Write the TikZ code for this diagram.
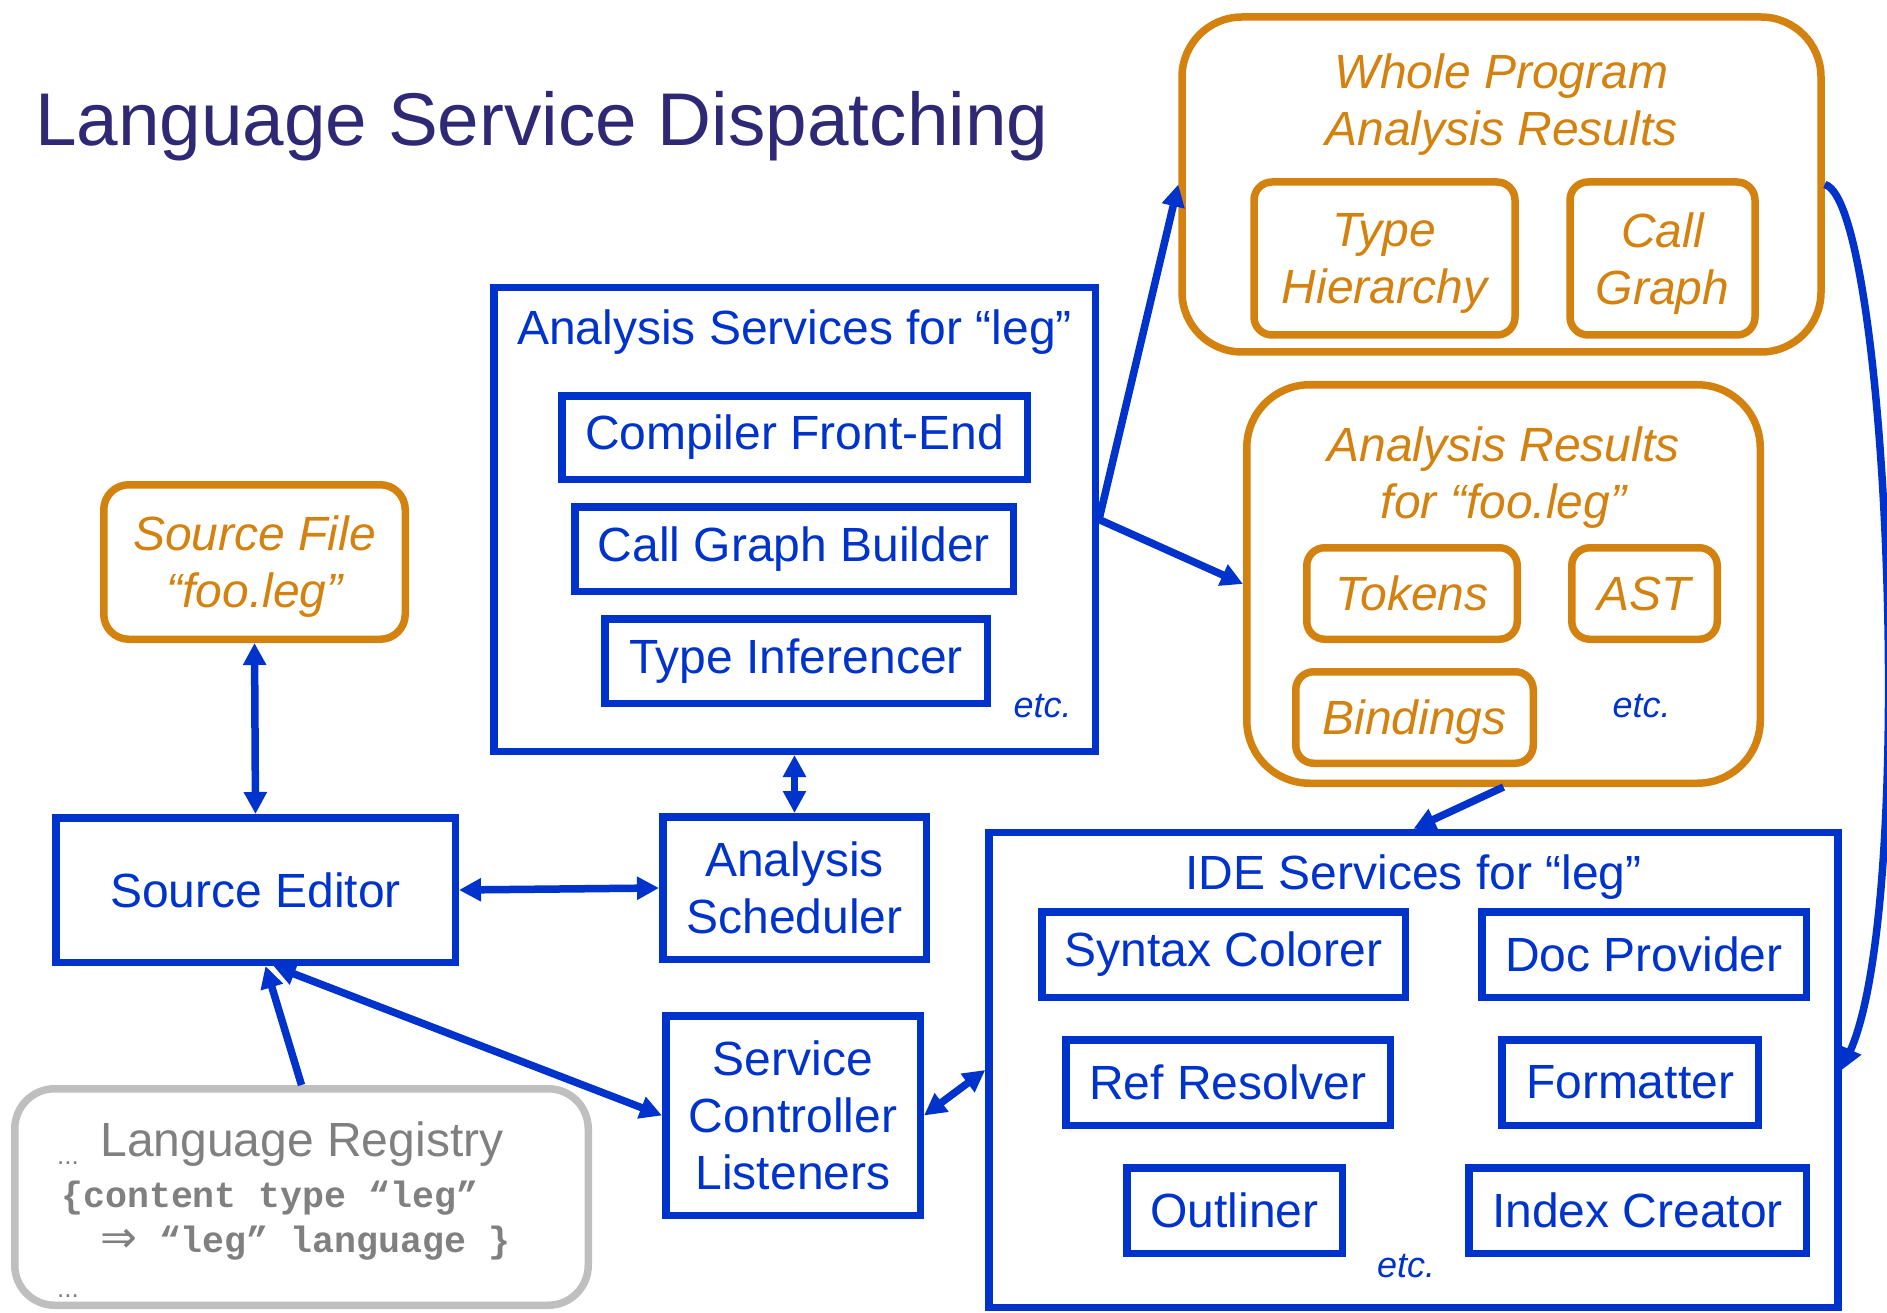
\documentclass[tikz,border=0pt]{standalone}
\usepackage{fontspec}
\setmainfont{Liberation Sans}
\newfontfamily\codefont{Liberation Mono}
\newfontfamily\arrowfont{DejaVu Sans}
\usetikzlibrary{arrows.meta}
\definecolor{svcblue}{HTML}{0033CC}
\definecolor{resorange}{HTML}{D4820F}
\definecolor{titleink}{HTML}{2E2875}
\definecolor{reggray}{HTML}{BFBFBF}
\definecolor{regtext}{HTML}{808080}
\begin{document}
\begin{tikzpicture}[x=1pt,y=-1pt,
		svcbox/.style={draw=svcblue, line width=7.5pt, text=svcblue, align=center, inner sep=0pt, font=\fontsize{48}{57}\selectfont},
		resbox/.style={draw=resorange, line width=7.5pt, rounded corners=18pt, text=resorange, align=center, inner sep=0pt, text depth=0pt, font=\fontsize{48}{57}\selectfont\itshape},
		svctitle/.style={text=svcblue, inner sep=0pt, anchor=north, font=\fontsize{48}{57}\selectfont},
		restitle/.style={text=resorange, align=center, inner sep=0pt, anchor=north, font=\fontsize{48}{57}\selectfont\itshape},
		etcnote/.style={text=svcblue, inner sep=0pt, anchor=base, font=\fontsize{36}{43}\selectfont\itshape},
		regnote/.style={text=regtext, inner sep=0pt, anchor=base west},
		conn/.style={svcblue, line width=7.5pt, -{Triangle[length=22pt,width=22pt]}},
		biconn/.style={conn, {Triangle[length=22pt,width=22pt]}-{Triangle[length=22pt,width=22pt]}}]
	\useasboundingbox (0,0) rectangle (1887,1313);
	\node[anchor=base west, inner sep=0pt, text=titleink, font=\fontsize{74.7}{89}\selectfont] (title) at (35,146) {Language Service Dispatching};

	% results kept for the whole program
	\node[resbox, rounded corners=60pt, minimum width=639pt, minimum height=335pt] (wpr) at (1501.5,184.5) {};
	\node[restitle] (wprtitle) at ([yshift=-40pt]wpr.north) {Whole Program\\Analysis Results};
	\node[resbox, minimum width=261pt, minimum height=153pt] (typehier) at (1384.5,258.5) {Type\\Hierarchy};
	\node[resbox, minimum width=185pt, minimum height=153pt] (callgraph) at (1662.5,258.5) {Call\\Graph};

	% results kept per file
	\node[resbox, rounded corners=63pt, minimum width=513.5pt, minimum height=398.5pt] (ares) at (1503.5,584) {};
	\node[restitle] (arestitle) at ([yshift=-46pt]ares.north) {Analysis Results\\for “foo.leg”};
	\node[resbox, minimum width=210.5pt, minimum height=91.5pt] (tokens) at (1412,593.5) {Tokens};
	\node[resbox, minimum width=145.5pt, minimum height=91.5pt] (ast) at (1644.5,593.5) {AST};
	\node[resbox, minimum width=237.5pt, minimum height=91.5pt] (bindings) at (1414.5,717.5) {Bindings};
	\node[etcnote] (aresetc) at (1641.5,717) {etc.};

	% analysis services
	\node[svcbox, minimum width=601.5pt, minimum height=463.5pt] (anasvc) at (794.5,519.5) {};
	\node[svctitle] (anasvctitle) at ([yshift=-26pt]anasvc.north) {Analysis Services for “leg”};
	\node[svcbox, minimum width=465.5pt, minimum height=83.5pt] (frontend) at (794.5,437.5) {Compiler Front-End};
	\node[svcbox, minimum width=438.5pt, minimum height=84.5pt] (cgbuilder) at (794,549) {Call Graph Builder};
	\node[svcbox, minimum width=382.5pt, minimum height=84.5pt] (inferencer) at (796,661) {Type Inferencer};
	\node[etcnote] (anasvcetc) at (1042.5,717) {etc.};

	\node[resbox, rounded corners=25pt, minimum width=301.5pt, minimum height=154.5pt] (srcfile) at (254.5,562) {Source File\\“foo.leg”};
	\node[svcbox, minimum width=399.5pt, minimum height=144.5pt] (srced) at (255.5,890) {Source Editor};
	\node[svcbox, minimum width=263.5pt, minimum height=142.5pt] (sched) at (794.5,888) {Analysis\\Scheduler};
	\node[svcbox, minimum width=254.5pt, minimum height=199.5pt] (svcctl) at (793,1115.5) {Service\\Controller\\Listeners};

	% IDE services
	\node[svcbox, minimum width=849pt, minimum height=475pt] (ide) at (1413.5,1070) {};
	\node[svctitle] (idetitle) at ([yshift=-26pt]ide.north) {IDE Services for “leg”};
	\node[svcbox, minimum width=363.5pt, minimum height=85.5pt] (colorer) at (1223.5,954.5) {Syntax Colorer};
	\node[svcbox, minimum width=324.5pt, minimum height=85.5pt] (docprov) at (1644,954.5) {Doc Provider};
	\node[svcbox, minimum width=324.5pt, minimum height=85.5pt] (resolver) at (1228,1082.5) {Ref Resolver};
	\node[svcbox, minimum width=256.5pt, minimum height=85.5pt] (formatter) at (1630,1082.5) {Formatter};
	\node[svcbox, minimum width=215.5pt, minimum height=85.5pt] (outliner) at (1234.5,1210.5) {Outliner};
	\node[svcbox, minimum width=337.5pt, minimum height=85.5pt] (indexer) at (1637.5,1210.5) {Index Creator};
	\node[etcnote] (ideetc) at (1406,1277) {etc.};

	% language registry
	\node[draw=reggray, line width=7.5pt, rounded corners=40pt, minimum width=573.5pt, minimum height=216.5pt] (langreg) at (301.5,1197) {};
	\node[text=regtext, inner sep=0pt, anchor=base, font=\fontsize{48}{57}\selectfont] (regtitle) at (302,1156) {Language Registry};
	\node[regnote, font=\fontsize{26}{31}\selectfont] (regdots) at (57,1164) {...};
	\node[regnote, font=\fontsize{36.6}{44}\codefont\bfseries] (regcode) at (61,1207) {\{content type “leg”};
	\node[regnote, font=\fontsize{36.6}{44}\codefont\bfseries] (regmap) at (100,1252) {{\arrowfont\mdseries\fontsize{44}{52}\selectfont ⇒} “leg” language \}};
	\node[regnote, font=\fontsize{26}{31}\selectfont] (regmore) at (57,1297) {...};

	\draw[biconn] (srcfile.south) -- (srced.north);
	\draw[biconn] (srced.east) -- (sched.west);
	\draw[biconn] (anasvc.south) -- (sched.north);
	\draw[conn] (anasvc.east) -- (wpr.west);
	\draw[conn] (anasvc.east) -- (ares.west);
	\draw[conn] (ares.south) -- (ide.north);
	\draw[conn] (wpr.east) .. controls +(63,16) and +(76,-171) .. (ide.east);
	\draw[conn] (langreg.north) -- ([xshift=10pt]srced.south);
	\draw[biconn] (svcctl.west) -- ([xshift=18pt]srced.south);
	\draw[biconn] (svcctl.east) -- (ide.west);
\end{tikzpicture}
\end{document}
